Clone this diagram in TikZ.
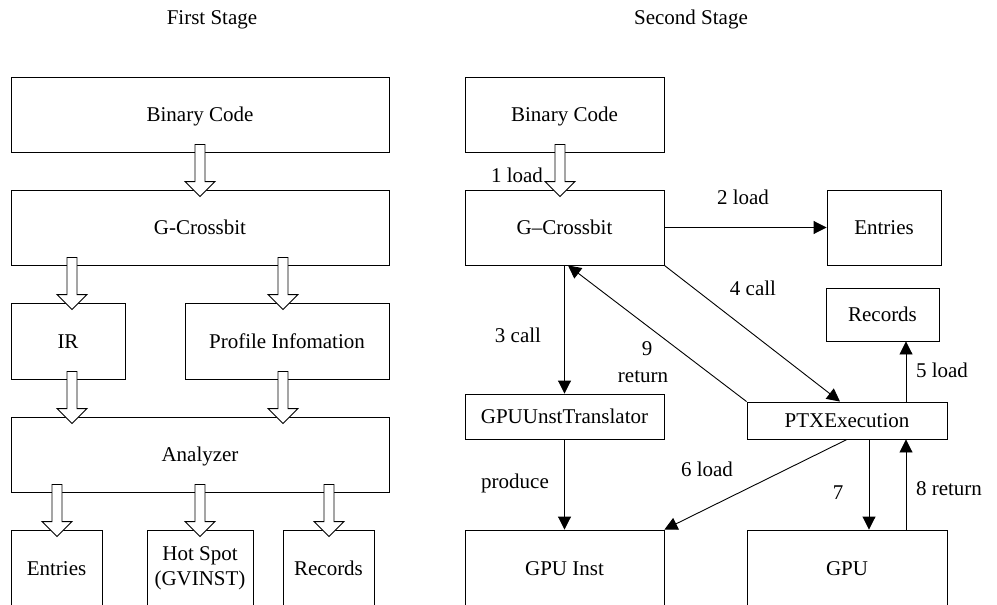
\documentclass[tikz,border=0pt]{standalone}
\usepackage{fontspec}
\setmainfont{Liberation Serif}
\usetikzlibrary{calc,arrows.meta}
\tikzset{
  lw/.style={line width=0.9pt},
  box/.style={draw, lw, inner sep=0pt, align=center, font=\fontsize{21}{25}\selectfont},
  oneline/.style={text height=14pt, text depth=0pt},
  lbl/.style={inner sep=0pt, oneline, font=\fontsize{21}{25}\selectfont},
  conn/.style={lw, -{Triangle[length=13pt,width=13pt]}},
  hollow/.style={draw, lw, fill=white}
}
\newcommand\harrow[3]{%
  \path (#1,0 |- #2.south) ++(0,-8) coordinate (hs);
  \path (#1,0 |- #3.north) ++(0,7) coordinate (ht);
  \draw[hollow] ($(hs)+(-5,0)$) -- ($(ht)+(-5,-15)$) -- ($(ht)+(-15,-15)$) -- (ht)
    -- ($(ht)+(15,-15)$) -- ($(ht)+(5,-15)$) -- ($(hs)+(5,0)$) -- cycle;
}
\begin{document}
\begin{tikzpicture}[x=1pt,y=-1pt]
\useasboundingbox (0,0) rectangle (997,605);
\clip (0,0) rectangle (997,605);
\fill[white] (0,0) rectangle (997,605);

% titles
\node[lbl] (t1) at (212,17.5) {First Stage};
\node[lbl] (t2) at (691,17.5) {Second Stage};

% ---------- first stage ----------
\node[box, oneline, minimum width=378pt, minimum height=75pt] (bin1) at (200,114.5) {Binary Code};
\node[box, oneline, minimum width=378pt, minimum height=75pt] (gcb1) at (200,227.5) {G-Crossbit};
\node[box, oneline, minimum width=114pt, minimum height=76pt] (ir) at (68,341) {IR};
\node[box, oneline, minimum width=204pt, minimum height=76pt] (prof) at (287,341) {Profile Infomation};
\node[box, oneline, minimum width=378pt, minimum height=75pt] (ana) at (200,454.5) {Analyzer};
\node[box, oneline, minimum width=91pt, minimum height=76pt] (ent1) at (56.5,568) {Entries};
\node[box, minimum width=106pt, minimum height=76pt] (hot) at (200,568) {Hot Spot\\(GVINST)};
\node[box, oneline, minimum width=91pt, minimum height=76pt] (rec1) at (328.5,568) {Records};

\harrow{200}{bin1}{gcb1}
\harrow{72}{gcb1}{ir}
\harrow{283}{gcb1}{prof}
\harrow{72}{ir}{ana}
\harrow{283}{prof}{ana}
\harrow{57}{ana}{ent1}
\harrow{200}{ana}{hot}
\harrow{329}{ana}{rec1}

% ---------- second stage ----------
\node[box, oneline, minimum width=199pt, minimum height=75pt] (bin2) at (564.5,114.5) {Binary Code};
\node[box, oneline, minimum width=199pt, minimum height=75pt] (gcb2) at (564.5,227.5) {G–Crossbit};
\node[box, oneline, minimum width=114pt, minimum height=75pt] (ent2) at (884,227.5) {Entries};
\node[box, oneline, minimum width=113pt, minimum height=53pt] (rec2) at (882.5,314.5) {Records};
\node[box, oneline, minimum width=199pt, minimum height=45pt] (gput) at (564.5,416.5) {GPUUnstTranslator};
\node[box, oneline, minimum width=200pt, minimum height=37pt] (ptx) at (847,420.5) {PTXExecution};
\node[box, oneline, minimum width=199pt, minimum height=76pt] (gpui) at (564.5,568) {GPU Inst};
\node[box, oneline, minimum width=200pt, minimum height=76pt] (gpu) at (847,568) {GPU};

\harrow{560}{bin2}{gcb2}

\draw[conn] (gcb2.east) -- (ent2.west);
\draw[conn] (gcb2.south) -- (gput.north);
\draw[conn] (gcb2.south east) -- (840,0 |- ptx.north);
\draw[conn] (ptx.north west) -- (568,0 |- gcb2.south);
\draw[conn] (906,0 |- ptx.north) -- (906,0 |- rec2.south);
\draw[conn] (gput.south) -- (gpui.north);
\draw[conn] (ptx.south) -- (gpui.north east);
\draw[conn] (869,0 |- ptx.south) -- (869,0 |- gpu.north);
\draw[conn] (906,0 |- gpu.north) -- (906,0 |- ptx.south);

% labels
\node[lbl] (l1) at (517,175) {1 load};
\node[lbl] (l2) at (743,197) {2 load};
\node[lbl] (l3) at (518,335) {3 call};
\node[lbl] (l4) at (753,288) {4 call};
\node[lbl] (l9a) at (647,348) {9};
\node[lbl] (l9b) at (643,375) {return};
\node[lbl] (l5) at (942,370) {5 load};
\node[lbl] (lp) at (515,481) {produce};
\node[lbl] (l6) at (707,469) {6 load};
\node[lbl] (l7) at (838,492) {7};
\node[lbl] (l8) at (949,488) {8 return};
\end{tikzpicture}
\end{document}
